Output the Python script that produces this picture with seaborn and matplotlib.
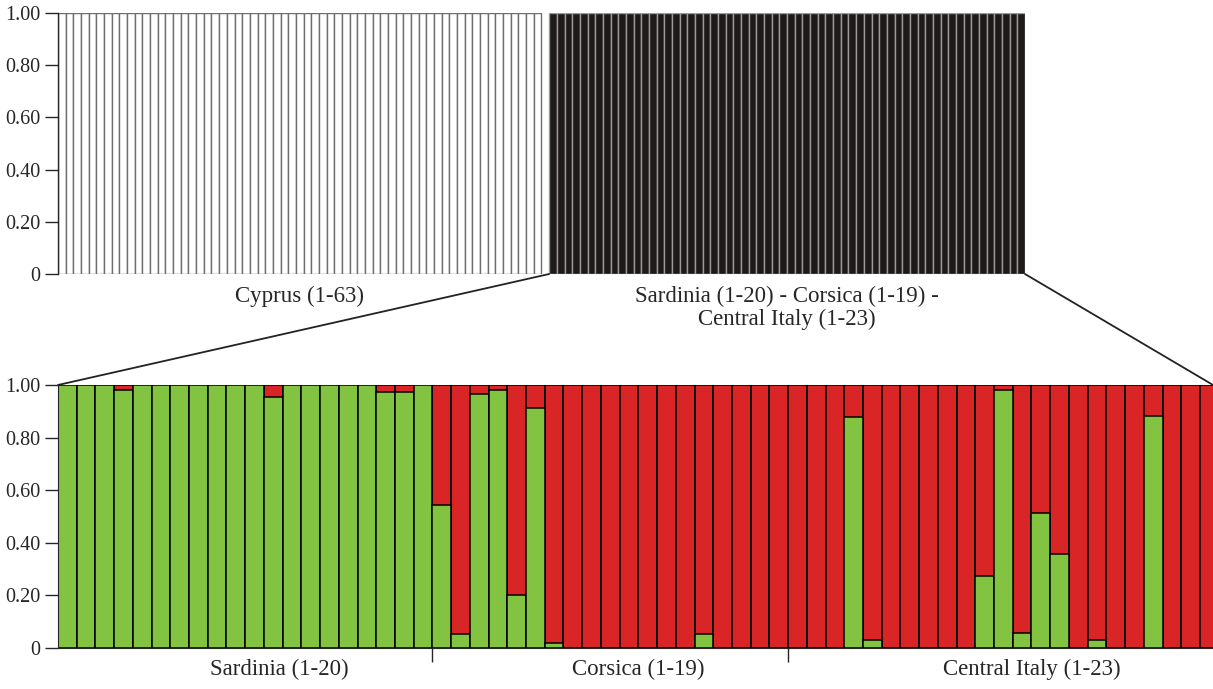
import numpy as np
import pandas as pd
import matplotlib
matplotlib.use('Agg')
import matplotlib.pyplot as plt
import seaborn as sns
from matplotlib.patches import ConnectionPatch

# membership values (green cluster share, red = 1 - green)
sardinia_green = [1, 1, 1, 0.98, 1, 1, 1, 1, 1, 1, 1, 0.955, 1, 1, 1, 1, 1, 0.975, 0.975, 1]
corsica_green = [0.545, 0.055, 0.967, 0.981, 0.20, 0.911, 0.02, 0, 0, 0, 0, 0, 0, 0,
                 0.055, 0, 0, 0, 0]
italy_green = [0, 0, 0, 0.878, 0.03, 0, 0, 0, 0, 0, 0.272, 0.98, 0.058, 0.514, 0.358,
               0, 0.032, 0, 0, 0.882, 0, 0, 0]

n_cyprus = 63
n_mainland = len(sardinia_green) + len(corsica_green) + len(italy_green)

top_labels = ['Cyprus (1-63)', 'Sardinia (1-20) - Corsica (1-19) -\nCentral Italy (1-23)']
bottom_labels = ['Sardinia (1-20)', 'Corsica (1-19)', 'Central Italy (1-23)']
ytick_vals = [0, 0.2, 0.4, 0.6, 0.8, 1.0]
ytick_labels = ['0', '0.20', '0.40', '0.60', '0.80', '1.00']

green_c = '#82c341'
red_c = '#da2527'

sns.set_style('ticks')
plt.rcParams['font.family'] = ['Liberation Serif', 'DejaVu Serif']
plt.rcParams['font.size'] = 14.5

fig = plt.figure(figsize=(12.13, 6.89), dpi=100)
ax_top = fig.add_axes([58 / 1213, 1 - 274 / 689, 967 / 1213, 261 / 689])
ax_bot = fig.add_axes([58 / 1213, 1 - 648 / 689, 1160.7 / 1213, 263 / 689])

# top panel: K=2 run, Cyprus vs mainland
cyp = pd.DataFrame({'pos': np.arange(n_cyprus), 'q': 1.0})
main = pd.DataFrame({'pos': np.arange(n_mainland) + n_cyprus + 1, 'q': 1.0})
sns.barplot(data=cyp, x='pos', y='q', native_scale=True, width=1, color='white',
            edgecolor='#6e6e6e', linewidth=1, saturation=1, ax=ax_top, errorbar=None)
sns.barplot(data=main, x='pos', y='q', native_scale=True, width=1, color='#1e1a19',
            edgecolor='#9a9a9a', linewidth=1, saturation=1, ax=ax_top, errorbar=None)
ax_top.set_xlim(-0.5, n_cyprus + n_mainland + 0.5)
ax_top.set_ylim(0, 1.0)
ax_top.set_xticks([])
ax_top.set_xlabel('')
ax_top.set_ylabel('')
ax_top.set_yticks(ytick_vals)
ax_top.set_yticklabels(ytick_labels)
ax_top.tick_params(axis='y', length=9.5, width=1, pad=3)
for s in ['top', 'right', 'bottom']:
    ax_top.spines[s].set_visible(False)
ax_top.spines['left'].set_linewidth(1)
ax_top.text((n_cyprus - 1) / 2, -0.045, top_labels[0], ha='center', va='top', fontsize=16.5)
ax_top.text(n_cyprus + 1 + (n_mainland - 1) / 2, -0.045, top_labels[1], ha='center', va='top',
            fontsize=16.5, multialignment='center', linespacing=1.1)

# bottom panel: K=2 run within mainland
green_all = sardinia_green + corsica_green + italy_green
bot = pd.DataFrame({'ind': np.arange(n_mainland), 'green': green_all, 'total': 1.0})
sns.barplot(data=bot, x='ind', y='total', width=1, color=red_c, saturation=1,
            edgecolor='black', linewidth=1.1, ax=ax_bot, errorbar=None)
sns.barplot(data=bot, x='ind', y='green', width=1, color=green_c, saturation=1,
            edgecolor='black', linewidth=1.1, ax=ax_bot, errorbar=None)
ax_bot.set_xlim(-0.5, n_mainland - 0.5)
ax_bot.set_ylim(0, 1.0)
ax_bot.set_xlabel('')
ax_bot.set_ylabel('')
ax_bot.set_yticks(ytick_vals)
ax_bot.set_yticklabels(ytick_labels)
ax_bot.tick_params(axis='y', length=9.5, width=1, pad=3)
sep = [len(sardinia_green) - 0.5, len(sardinia_green) + len(corsica_green) - 0.5]
ax_bot.set_xticks(sep)
ax_bot.set_xticklabels(['', ''])
ax_bot.tick_params(axis='x', length=10, width=1)
for s in ['top', 'right']:
    ax_bot.spines[s].set_visible(False)
for x, lab in zip([11.3, 30.5, 51.5], bottom_labels):
    ax_bot.text(x, -0.04, lab, ha='center', va='top', fontsize=16.5)

# zoom lines from the mainland block down to the lower panel
for xa, xb in [(n_cyprus + 0.5, -0.5), (n_cyprus + n_mainland + 0.5, n_mainland - 0.8)]:
    con = ConnectionPatch(xyA=(xa, 0), coordsA=ax_top.transData,
                          xyB=(xb, 1.0), coordsB=ax_bot.transData,
                          color='#222222', linewidth=1.3)
    fig.add_artist(con)

fig.savefig('out.png', dpi=100)
